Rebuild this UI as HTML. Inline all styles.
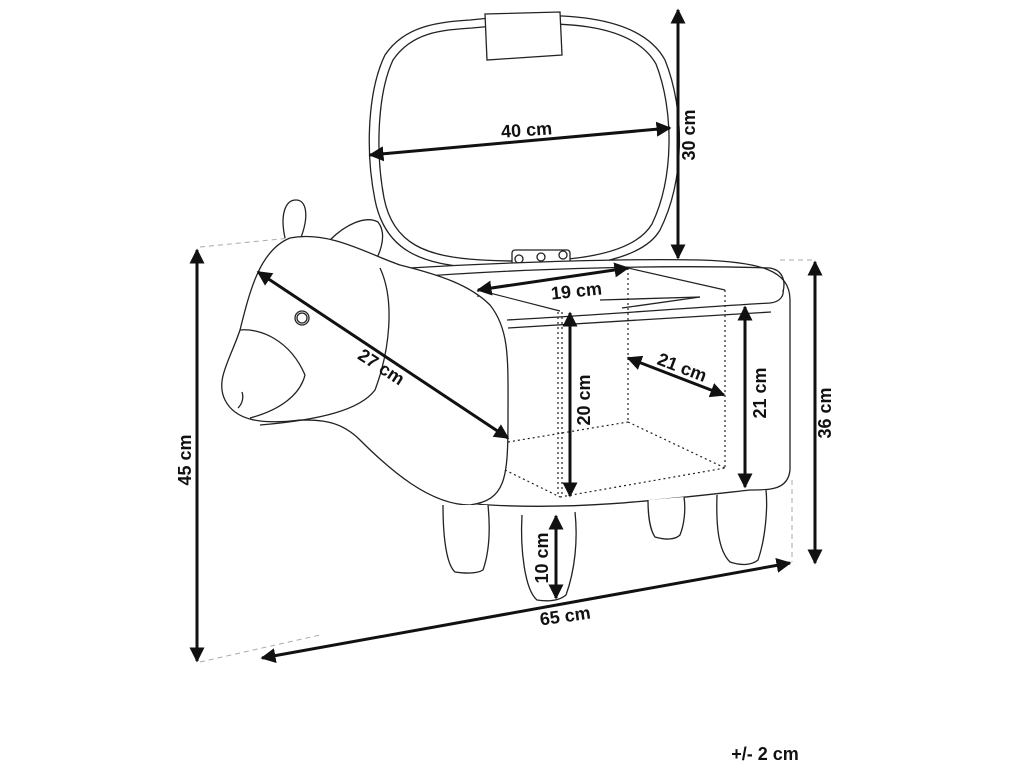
<!DOCTYPE html>
<html><head><meta charset="utf-8"><style>
html,body{margin:0;padding:0;background:#fff;width:1024px;height:768px;overflow:hidden}
svg{display:block}
text{font-family:"Liberation Sans",sans-serif;font-weight:bold;font-size:18px;fill:#111}
</style></head><body>
<svg width="1024" height="768" viewBox="0 0 1024 768" xmlns="http://www.w3.org/2000/svg">
<defs>
<marker id="a" viewBox="0 0 10 10" refX="9" refY="5" markerWidth="5" markerHeight="5" orient="auto-start-reverse">
<path d="M0,0 L10,5 L0,10 z" fill="#111"/></marker>
</defs>
<g fill="none" stroke="#aaa" stroke-width="1" stroke-dasharray="5,4">
<line x1="200" y1="247" x2="290" y2="238"/>
<line x1="200" y1="662" x2="320" y2="635"/>
<line x1="780" y1="260" x2="815" y2="260"/>
<line x1="792" y1="480" x2="792" y2="562"/>
</g>
<g fill="none" stroke="#222" stroke-width="1.3">
<path d="M470,20 C560,10 640,14 665,60 C685,110 685,180 660,230 C640,265 560,272 480,268 C420,265 385,250 375,200 C365,150 368,90 385,55 C405,25 440,22 470,20 Z"/>
<path d="M472,28 C560,19 632,22 656,64 C674,110 674,178 652,224 C632,258 560,264 482,260 C426,257 393,244 384,198 C375,150 378,92 393,60 C412,32 442,30 472,28 Z"/>
<path d="M485,14 L560,12 L562,55 L487,60 Z" fill="#fff"/>
<rect x="512" y="250" width="58" height="20" rx="3" fill="#fff"/>
<circle cx="519" cy="259" r="4"/><circle cx="541" cy="257" r="4"/><circle cx="563" cy="255" r="4"/>
<line x1="513" y1="272" x2="576" y2="268"/>
<path d="M380,270 C450,265 600,258 700,260 C760,262 790,270 790,300 L790,470 C788,490 770,490 750,490 C660,500 580,510 490,505 C430,503 400,470 360,430" fill="#fff"/>
<path d="M400,278 C500,270 650,264 770,268 C782,270 786,280 783,292"/>
<path d="M507,320 C600,315 700,307 770,303 C780,302 784,296 783,290"/>
<line x1="508" y1="328" x2="771" y2="312"/>
<line x1="600" y1="300" x2="700" y2="297"/>
<line x1="622" y1="308" x2="700" y2="297"/>
<path d="M285,238 C280,215 285,200 296,200 C306,200 310,215 300,240"/>
<path d="M330,240 C345,225 365,215 378,222 C388,235 380,258 368,270"/>
<path d="M290,238 C330,230 370,255 400,265 C440,275 470,285 490,305 C510,330 508,360 508,420 C508,480 505,500 470,505 C430,505 390,470 360,440 C340,420 320,420 300,420 C260,425 235,420 225,400 C215,380 230,360 240,330 C250,290 260,250 290,238 Z" fill="#fff"/>
<path d="M380,268 C395,300 390,350 375,390 C360,410 320,420 260,425"/>
<path d="M240,330 C260,328 290,340 305,375 C300,395 280,410 250,418"/>
<circle cx="302" cy="318" r="7"/>
<circle cx="302" cy="318" r="5"/>
<path d="M242,392 C244,398 242,404 238,408"/>
<path d="M443,505 C443,540 447,565 455,572 C468,574 478,573 483,570 C490,550 490,525 488,505" fill="#fff"/>
<path d="M522,515 C520,550 525,590 537,600 C550,602 560,600 566,595 C575,570 578,540 575,512" fill="#fff"/>
<path d="M648,500 C648,515 650,530 655,537 C665,540 675,540 680,535 C684,525 686,510 684,497" fill="#fff"/>
<path d="M717,495 C716,525 718,550 730,562 C742,566 752,565 758,560 C765,540 768,510 766,490" fill="#fff"/>
</g>
<g fill="none" stroke="#222" stroke-width="1.2" stroke-dasharray="2,3">
<line x1="478" y1="290" x2="478" y2="300"/>
<line x1="628" y1="268" x2="628" y2="422"/>
<line x1="558" y1="312" x2="558" y2="497"/>
<line x1="562" y1="312" x2="562" y2="497"/>
<line x1="725" y1="290" x2="725" y2="468"/>
<line x1="508" y1="442" x2="628" y2="422"/>
<line x1="628" y1="422" x2="725" y2="468"/>
<line x1="505" y1="470" x2="560" y2="497"/>
<line x1="560" y1="497" x2="725" y2="468"/>
</g>
<g stroke="#222" stroke-width="1.2" fill="none">
<line x1="478" y1="290" x2="560" y2="311"/>
<line x1="628" y1="268" x2="725" y2="290"/>
</g>
<g stroke="#111" stroke-width="3" fill="none" marker-start="url(#a)" marker-end="url(#a)">
<line x1="370" y1="155" x2="670" y2="128"/>
<line x1="678" y1="10" x2="678" y2="258"/>
<line x1="478" y1="290" x2="628" y2="268"/>
<line x1="258" y1="272" x2="508" y2="438"/>
<line x1="570" y1="313" x2="570" y2="496"/>
<line x1="628" y1="358" x2="724" y2="395"/>
<line x1="745" y1="307" x2="745" y2="487"/>
<line x1="815" y1="262" x2="815" y2="563"/>
<line x1="197" y1="250" x2="197" y2="661"/>
<line x1="262" y1="658" x2="790" y2="563"/>
<line x1="556" y1="516" x2="556" y2="598"/>
</g>
<text x="527" y="136" text-anchor="middle" transform="rotate(-4 527 136)">40 cm</text>
<text transform="translate(695,135) rotate(-90)" text-anchor="middle">30 cm</text>
<text x="577" y="297" text-anchor="middle" transform="rotate(-6 577 297)">19 cm</text>
<text transform="translate(378,372) rotate(33)" text-anchor="middle">27 cm</text>
<text transform="translate(590,400) rotate(-90)" text-anchor="middle">20 cm</text>
<text transform="translate(680,373) rotate(21)" text-anchor="middle">21 cm</text>
<text transform="translate(766,393) rotate(-90)" text-anchor="middle">21 cm</text>
<text transform="translate(831,413) rotate(-90)" text-anchor="middle">36 cm</text>
<text transform="translate(191,460) rotate(-90)" text-anchor="middle">45 cm</text>
<text transform="translate(548,558) rotate(-90)" text-anchor="middle">10 cm</text>
<text transform="translate(566,622) rotate(-8)" text-anchor="middle">65 cm</text>
<text x="765" y="760" text-anchor="middle">+/- 2 cm</text>
</svg>
</body></html>
